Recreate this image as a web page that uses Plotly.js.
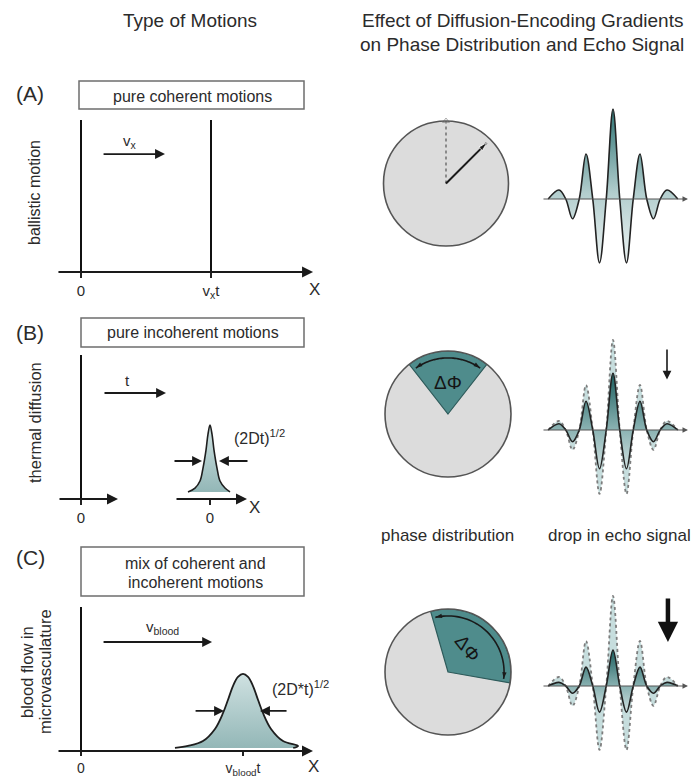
<!DOCTYPE html>
<html><head><meta charset="utf-8">
<script src="https://cdn.plot.ly/plotly-3.0.1.min.js"></script>
<style>html,body{margin:0;padding:0;background:#fff}#chart{width:693px;height:778px}</style>
</head><body><div id="chart"></div>
<script>
// ---------- data ----------
// (A) ballistic motion: two delta peaks at 0 and vx*t
const spikeAPos = [0, 1];
const spikeAHeight = [1, 1];
const tickAVals = [0, 1];
const tickAText = ['0', 'v<sub>x</sub>t'];
// (B) thermal diffusion: initial spike, then narrow spread profile
const spikeBPos = [0];
const spikeBHeight = [1];
const gaussBOffset = [-22, -15, -10, -7, -4, -2, 0, 2, 4, 7, 10, 15, 20];
const gaussBHeight = [0.049, 0.076, 0.125, 0.215, 0.340, 0.451, 0.514, 0.451, 0.340, 0.215, 0.125, 0.076, 0.049];
const tickBVals = [0];
const tickBText = ['0'];
// (C) blood flow: initial spike, then broad profile centred at vblood*t
const spikeCPos = [0];
const spikeCHeight = [1];
const gaussCPos = [0.58, 0.66, 0.753, 0.827, 0.877, 0.907, 0.938, 0.969, 1.0, 1.031, 1.062, 1.093, 1.123, 1.173, 1.247, 1.34, 1.31];
const gaussCHeight = [0.021, 0.035, 0.069, 0.153, 0.264, 0.354, 0.451, 0.514, 0.535, 0.514, 0.451, 0.354, 0.264, 0.153, 0.069, 0.035, 0.021];
const tickCVals = [0, 1];
const tickCText = ['0', 'v<sub>blood</sub>t'];
// phase distribution (degrees, clockwise from top)
const coherentPhase = [45];
const phaseSpreadCenter = [0, 42];
const phaseSpreadWidth = [76, 116];
// echo signals (time in half-periods, amplitude relative to full echo)
const echoTime = [-4.8, -4, -3.5, -3, -2.5, -2, -1.5, -1, -0.5, 0, 0.5, 1, 1.5, 2, 2.5, 3, 3.5, 4, 4.8];
const echoFull = [0, 0.1, 0, -0.22, 0, 0.5, 0, -0.71, 0, 1, 0, -0.71, 0, 0.5, 0, -0.22, 0, 0.1, 0];
const echoThermal = [0, 0.07, 0, -0.13, 0, 0.32, 0, -0.43, 0, 0.63, 0, -0.43, 0, 0.32, 0, -0.13, 0, 0.07, 0];
const echoBlood = [0, 0.04, 0, -0.08, 0, 0.21, 0, -0.29, 0, 0.40, 0, -0.29, 0, 0.21, 0, -0.08, 0, 0.04, 0];

// ---------- layout helpers ----------
const W = 693, H = 778;
const fx = p => p / W;
const fy = p => 1 - p / H;
const FONT = 'Liberation Sans, Arial, Helvetica, sans-serif';
const TXT = '#2b2b2b';
const TEAL = '#4f8c8c';

function arc(a, b, n) { const t = []; for (let i = 0; i <= n; i++) t.push(a + (b - a) * i / n); return t; }

const traces = [];
// spikes
traces.push({type: 'bar', x: spikeAPos, y: spikeAHeight, width: 0.022, marker: {color: '#111'}, xaxis: 'x', yaxis: 'y'});
traces.push({type: 'bar', x: spikeBPos, y: spikeBHeight, width: 2.8, marker: {color: '#111'}, xaxis: 'x2', yaxis: 'y2'});
traces.push({type: 'bar', x: spikeCPos, y: spikeCHeight, width: 0.018, marker: {color: '#111'}, xaxis: 'x4', yaxis: 'y4'});
// spread profiles
const gaussGrad = {type: 'vertical', colorscale: [[0, '#93b7b7'], [1, '#cfe1e1']]};
traces.push({type: 'scatter', mode: 'lines', x: gaussBOffset, y: gaussBHeight, xaxis: 'x3', yaxis: 'y2',
  line: {shape: 'spline', smoothing: 1, color: '#1e1e1e', width: 1.6}, fill: 'toself', fillgradient: gaussGrad});
traces.push({type: 'scatter', mode: 'lines', x: gaussCPos, y: gaussCHeight, xaxis: 'x4', yaxis: 'y4',
  line: {shape: 'spline', smoothing: 1, color: '#1e1e1e', width: 1.8}, fill: 'toself', fillgradient: gaussGrad});

// phase circles
traces.push({type: 'scatterpolar', subplot: 'polar', r: [0, 1], theta: [0, 0], mode: 'lines+markers',
  line: {color: '#8a8a8a', width: 2, dash: 'dot'}, marker: {size: [0, 6], symbol: 'triangle-up-open', color: '#8a8a8a'}});
traces.push({type: 'scatterpolar', subplot: 'polar', r: [0, 0.92], theta: [coherentPhase[0], coherentPhase[0]], mode: 'lines+markers',
  line: {color: '#1a1a1a', width: 2}, marker: {size: [0, 9], symbol: 'arrow', angle: coherentPhase[0], color: '#1a1a1a'}});
['polar2', 'polar3'].forEach((sp, i) => {
  const c = phaseSpreadCenter[i], w = phaseSpreadWidth[i];
  traces.push({type: 'barpolar', subplot: sp, r: [1], theta: [c], width: [w],
    marker: {color: TEAL, line: {color: '#2e5b5b', width: 1.2}}});
  const a = c - w / 2 + 3, b = c + w / 2 - 3;
  traces.push({type: 'scatterpolar', subplot: sp, r: arc(a, b, 40).map(() => 0.89), theta: arc(a, b, 40), mode: 'lines',
    line: {color: '#1a1a1a', width: 1.6}});
  traces.push({type: 'scatterpolar', subplot: sp, r: [0.89, 0.89], theta: [a, b], mode: 'markers',
    marker: {size: 7, symbol: 'arrow', angle: [a - 90, b + 90], color: '#1a1a1a'}});
});

// echo signals
const echoLine = {shape: 'spline', smoothing: 1, color: '#222', width: 1.6};
traces.push({type: 'scatter', mode: 'lines', x: echoTime, y: echoFull, xaxis: 'x5', yaxis: 'y5', line: echoLine,
  fill: 'tozeroy', fillgradient: {type: 'vertical', colorscale: [[0, '#edf3f3'], [0.45, '#b3cece'], [1, '#2f7474']]}});
[['y6', echoThermal], ['y7', echoBlood]].forEach(([ya, vals]) => {
  traces.push({type: 'scatter', mode: 'lines', x: echoTime, y: echoFull, xaxis: 'x5', yaxis: ya,
    line: {shape: 'spline', smoothing: 1, color: '#7d7d7d', width: 1.8, dash: 'dot'},
    fill: 'tozeroy', fillcolor: 'rgba(160,199,199,0.6)'});
  traces.push({type: 'scatter', mode: 'lines', x: echoTime, y: vals, xaxis: 'x5', yaxis: ya, line: echoLine,
    fill: 'tozeroy', fillgradient: {type: 'vertical', colorscale: [[0, '#cfe0e0'], [0.4, '#8db4b4'], [1, '#1b5f5f']]}});
});

// ---------- axes ----------
function leftX(d0, d1, range, anchor, tv, tt, fs, tl) {
  return {domain: [fx(d0), fx(d1)], range: range, anchor: anchor, showgrid: false, zeroline: false, showline: false,
    ticks: 'outside', ticklen: tl || 5, tickwidth: 2, tickcolor: '#222', tickvals: tv, ticktext: tt,
    tickfont: {family: FONT, size: fs || 15, color: TXT}, fixedrange: true};
}
function hiddenY(p0, p1, range, anchor) {
  return {domain: [fy(p1), fy(p0)], range: range, anchor: anchor, visible: false, fixedrange: true};
}
function polarLayout(cx, cy, r) {
  return {domain: {x: [fx(cx - r), fx(cx + r)], y: [fy(cy + r), fy(cy - r)]}, bgcolor: '#dcdcdc',
    radialaxis: {visible: false, range: [0, 1]},
    angularaxis: {rotation: 90, direction: 'clockwise', showline: true, linecolor: '#555', linewidth: 1.6,
      showgrid: false, showticklabels: false, ticks: ''}};
}

// ---------- annotations ----------
const ann = [];
function txt(px, py, text, size, extra) {
  ann.push(Object.assign({xref: 'paper', yref: 'paper', x: fx(px), y: fy(py), text: text, showarrow: false,
    xanchor: 'center', yanchor: 'middle', font: {family: FONT, size: size, color: TXT}}, extra || {}));
}
function dtxt(xr, yr, x, y, text, size) {
  ann.push({xref: xr, yref: yr, x: x, y: y, text: text, showarrow: false, xanchor: 'center', yanchor: 'middle',
    font: {family: FONT, size: size, color: TXT}});
}
function arrow(xr, yr, x0, y0, x1, y1, w, color, head, size) {
  ann.push({xref: xr, yref: yr, axref: xr, ayref: yr, x: x1, y: y1, ax: x0, ay: y0, text: '', showarrow: true,
    arrowhead: head || 2, arrowsize: size || 1, arrowwidth: w, arrowcolor: color || '#1a1a1a', standoff: 0, startstandoff: 0});
}

txt(190, 21, 'Type of Motions', 19);
txt(522, 20, 'Effect of Diffusion-Encoding Gradients', 19);
txt(522, 44, 'on Phase Distribution and Echo Signal', 19);
txt(30, 93, '(A)', 21);
txt(30, 332, '(B)', 21);
txt(30, 557, '(C)', 21);
txt(192, 96, 'pure coherent motions', 16);
txt(193, 333, 'pure incoherent motions', 16);
txt(195, 563, 'mix of coherent and', 16);
txt(195, 582, 'incoherent motions', 16);
txt(35, 193, 'ballistic motion', 16, {textangle: -90});
txt(35, 423, 'thermal diffusion', 16.5, {textangle: -90});
txt(27, 672, 'blood flow in', 16.5, {textangle: -90});
txt(45, 671, 'microvasculature', 16.5, {textangle: -90});
txt(314, 289, 'X', 17);
txt(255, 507, 'X', 17);
txt(313, 766, 'X', 17);
txt(447, 535, 'phase distribution', 17);
txt(619, 535, 'drop in echo signal', 17);
txt(448, 382, 'ΔΦ', 19, {font: {family: FONT, size: 19, color: '#151515'}});
txt(468, 648, 'ΔΦ', 19, {textangle: 52, font: {family: FONT, size: 19, color: '#151515'}});

// axis arrows (left panels)
arrow('x', 'y', -0.185, 0, 1.785, 0, 2, '#1a1a1a', 2, 1.1);
arrow('x2', 'y2', -23, 0, 37, 0, 2, '#1a1a1a', 2, 1.1);
arrow('x3', 'y2', -35, 0, 37, 0, 2, '#1a1a1a', 2, 1.1);
arrow('x4', 'y4', -0.148, 0, 1.432, 0, 2, '#1a1a1a', 2, 1.1);
// motion arrows
arrow('x', 'y', 0.162, 0.776, 0.646, 0.776, 1.8, '#1a1a1a', 2, 1.1);
dtxt('x', 'y', 0.377, 0.856, 'v<sub>x</sub>', 15);
arrow('x2', 'y2', 22, 0.736, 85, 0.736, 1.8, '#1a1a1a', 2, 1.1);
dtxt('x2', 'y2', 46, 0.826, 't', 15);
arrow('x4', 'y4', 0.130, 0.757, 0.809, 0.757, 1.8, '#1a1a1a', 2, 1.1);
dtxt('x4', 'y4', 0.506, 0.861, 'v<sub>blood</sub>', 15);
// width markers
arrow('x3', 'y2', -37, 0.264, -8, 0.264, 1.8, '#1a1a1a', 2, 1.1);
arrow('x3', 'y2', 39, 0.264, 9, 0.264, 1.8, '#1a1a1a', 2, 1.1);
dtxt('x3', 'y2', 49, 0.43, '(2Dt)<sup>1/2</sup>', 16);
arrow('x4', 'y4', 0.698, 0.278, 0.883, 0.278, 1.8, '#1a1a1a', 2, 1.1);
arrow('x4', 'y4', 1.278, 0.278, 1.105, 0.278, 1.8, '#1a1a1a', 2, 1.1);
dtxt('x4', 'y4', 1.352, 0.4375, '(2D*t)<sup>1/2</sup>', 16);
// echo baselines
['y5', 'y6', 'y7'].forEach(ya => arrow('x5', ya, -5.26, 0, 5.55, 0, 1.2, '#555', 2, 0.9));
// signal drop arrows
arrow('x5', 'y6', 4.0, 0.91, 4.0, 0.56, 1.6, '#1a1a1a', 2, 1.1);
arrow('x5', 'y7', 4.07, 0.99, 4.07, 0.49, 4.5, '#111', 2, 0.9);

const shapes = [[79, 81, 304, 109], [81, 318, 304, 347], [81, 547, 304, 596]].map(b => ({
  type: 'rect', xref: 'paper', yref: 'paper', x0: fx(b[0]), x1: fx(b[2]), y0: fy(b[3]), y1: fy(b[1]),
  line: {color: '#6e6e6e', width: 1.5}, fillcolor: 'rgba(0,0,0,0)'}));

const layout = {
  width: W, height: H, margin: {l: 0, r: 0, t: 0, b: 0}, paper_bgcolor: '#fff', plot_bgcolor: 'rgba(0,0,0,0)',
  showlegend: false, font: {family: FONT, color: TXT}, bargap: 0,
  xaxis: leftX(40, 330, [-41 / 130, 249 / 130], 'y', tickAVals, tickAText),
  yaxis: hiddenY(120, 272, [0, 1], 'x'),
  xaxis2: leftX(40, 170, [-41, 89], 'y2', tickBVals, tickBText),
  xaxis3: leftX(172, 330, [-38, 120], 'y2', tickBVals, tickBText),
  yaxis2: hiddenY(355, 499, [0, 1], 'x2'),
  xaxis4: leftX(40, 330, [-41 / 162, 249 / 162], 'y4', tickCVals, tickCText, 14, 4),
  yaxis4: hiddenY(607, 751, [0, 1], 'x4'),
  xaxis5: {domain: [fx(540), fx(692)], range: [(540 - 613) / 13.5, (692 - 613) / 13.5], anchor: 'y5', visible: false, fixedrange: true},
  yaxis5: hiddenY(100, 270, [-71 / 90, 99 / 90], 'x5'),
  yaxis6: hiddenY(331, 501, [-71 / 90, 99 / 90], 'x5'),
  yaxis7: hiddenY(587, 757, [-71 / 90, 99 / 90], 'x5'),
  polar: polarLayout(446, 183.5, 62.5),
  polar2: polarLayout(448, 414, 63),
  polar3: polarLayout(448, 672, 63),
  annotations: ann, shapes: shapes
};
Plotly.newPlot('chart', traces, layout, {staticPlot: true, displayModeBar: false});
</script></body></html>
